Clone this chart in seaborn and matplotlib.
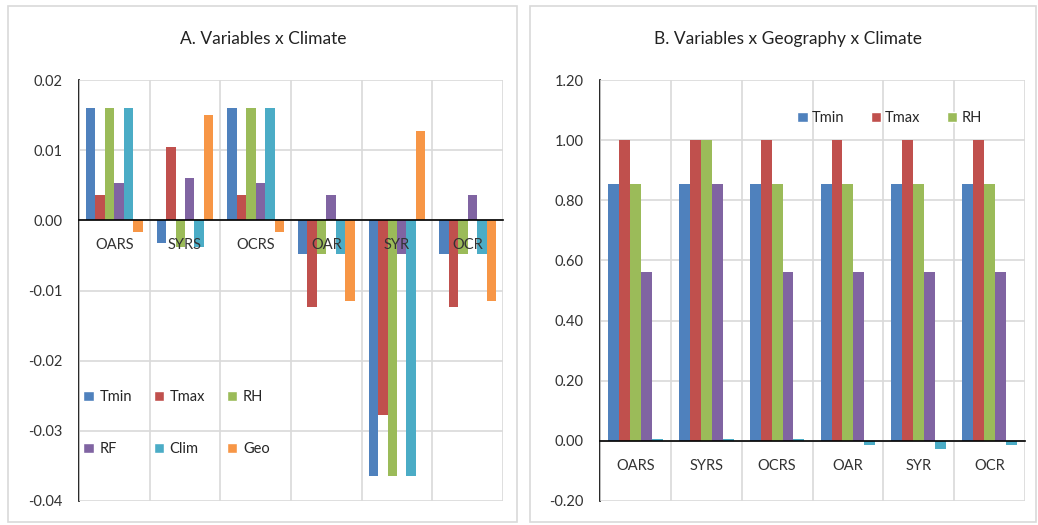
import numpy as np
import pandas as pd
import matplotlib
matplotlib.use("Agg")
import matplotlib.pyplot as plt
import seaborn as sns
from matplotlib.patches import Patch, Rectangle
from matplotlib.ticker import FixedLocator, FormatStrFormatter

# sites (categories), same for both panels
sites = ["OARS", "SYRS", "OCRS", "OAR", "SYR", "OCR"]

# panel A: Variables x Climate
a_tmin = [0.016, -0.0033, 0.016, -0.0048, -0.0365, -0.0048]
a_tmax = [0.0036, 0.0105, 0.0036, -0.0124, -0.0277, -0.0124]
a_rh = [0.016, -0.0038, 0.016, -0.0048, -0.0365, -0.0048]
a_rf = [0.0053, 0.006, 0.0053, 0.0036, -0.0048, 0.0036]
a_clim = [0.016, -0.0038, 0.016, -0.0048, -0.0365, -0.0048]
a_geo = [-0.0016, 0.015, -0.0016, -0.0115, 0.0127, -0.0115]

# panel B: Variables x Geography x Climate
b_tmin = [0.855, 0.855, 0.855, 0.855, 0.855, 0.855]
b_tmax = [1.0, 1.0, 1.0, 1.0, 1.0, 1.0]
b_rh = [0.855, 1.0, 0.855, 0.855, 0.855, 0.855]
b_rf = [0.56, 0.855, 0.56, 0.56, 0.56, 0.56]
b_clim = [0.006, 0.006, 0.006, -0.013, -0.026, -0.013]

vars_a = ["Tmin", "Tmax", "RH", "RF", "Clim", "Geo"]
vars_b = ["Tmin", "Tmax", "RH", "RF", "Clim"]

colores = ["#4F81BD", "#C0504D", "#9BBB59", "#8064A2", "#4BACC6", "#F79646"]


def armar_df(series, nombres):
    filas = []
    for nom, vals in zip(nombres, series):
        for s, v in zip(sites, vals):
            filas.append({"site": s, "var": nom, "value": v})
    return pd.DataFrame(filas)


dfA = armar_df([a_tmin, a_tmax, a_rh, a_rf, a_clim, a_geo], vars_a)
dfB = armar_df([b_tmin, b_tmax, b_rh, b_rf, b_clim], vars_b)

sns.set_style("white")
plt.rcParams["font.family"] = ["Lato", "DejaVu Sans"]

W, H = 1038, 525
fig = plt.figure(figsize=(W / 100, H / 100), dpi=100)

# bordes de cada panel (estilo excel)
for x0, x1 in [(8, 517), (530, 1036)]:
    fig.add_artist(Rectangle((x0 / W, 1 - 522 / H), (x1 - x0) / W, (522 - 6) / H,
                             transform=fig.transFigure, fill=False,
                             edgecolor="#d9d9d9", lw=1.2))

axA = fig.add_axes([79 / W, 1 - 501 / H, (503 - 79) / W, (501 - 80) / H])
axB = fig.add_axes([600 / W, 1 - 501 / H, (1025 - 600) / W, (501 - 80) / H])

sns.barplot(data=dfA, x="site", y="value", hue="var", palette=colores,
            width=0.8, saturation=1, errorbar=None, linewidth=0,
            legend=False, ax=axA)
sns.barplot(data=dfB, x="site", y="value", hue="var", palette=colores[:5],
            width=0.77, saturation=1, errorbar=None, linewidth=0,
            legend=False, ax=axB)


def estilo(ax, ymin, ymax, paso):
    ax.set_xlim(-0.5, len(sites) - 0.5)
    ax.set_ylim(ymin, ymax)
    ax.set_yticks(np.round(np.arange(ymin, ymax + paso / 2, paso), 4))
    ax.yaxis.set_major_formatter(FormatStrFormatter("%.2f"))
    ax.xaxis.set_major_locator(FixedLocator(np.arange(-0.5, len(sites), 1.0)))
    ax.xaxis.set_minor_locator(FixedLocator(np.arange(len(sites))))
    ax.set_xticklabels([], minor=False)
    ax.set_xticklabels(sites, minor=True)
    ax.tick_params(axis="x", which="major", direction="inout", length=12,
                   width=1.2, color="black")
    ax.tick_params(axis="x", which="minor", length=0, pad=13,
                   labelsize=10.5, labelcolor="#333333")
    ax.tick_params(axis="y", direction="inout", length=12, width=1.2,
                   color="black", pad=6, labelsize=10.5, labelcolor="#333333")
    ax.grid(True, which="major", color="#d9d9d9", lw=1.2)
    ax.set_axisbelow(True)
    # etiquetas de categoria por encima de las barras
    ax.xaxis.set_zorder(3)
    for lado in ["top", "right"]:
        ax.spines[lado].set_visible(False)
    ax.spines["bottom"].set_position(("data", 0))
    ax.spines["bottom"].set_color("black")
    ax.spines["bottom"].set_linewidth(1.2)
    ax.spines["bottom"].set_zorder(5)
    ax.spines["left"].set_color("black")
    ax.spines["left"].set_linewidth(1.2)
    ax.set_xlabel("")
    ax.set_ylabel("")


estilo(axA, -0.04, 0.02, 0.01)
estilo(axB, -0.2, 1.2, 0.2)

fig.text(263 / W, 1 - 39 / H, "A. Variables x Climate", ha="center",
         va="center", fontsize=12.5, color="#222222")
fig.text(788 / W, 1 - 39 / H, "B. Variables x Geography x Climate",
         ha="center", va="center", fontsize=12.5, color="#222222")

# leyendas (orden por filas como en excel)
hA = [Patch(facecolor=c, label=n) for c, n in zip(colores, vars_a)]
hA = [hA[0], hA[3], hA[1], hA[4], hA[2], hA[5]]
axA.legend(handles=hA, ncol=3, loc="upper left",
           bbox_to_anchor=(76 / W, 1 - 383 / H), bbox_transform=fig.transFigure,
           frameon=False, borderpad=0, handlelength=0.7, handleheight=0.7,
           handletextpad=0.4, columnspacing=1.5, labelspacing=2.6,
           fontsize=10.5)

hB = [Patch(facecolor=c, label=n) for c, n in zip(colores[:3], vars_b[:3])]
axB.legend(handles=hB, ncol=3, loc="upper left",
           bbox_to_anchor=(790 / W, 1 - 104 / H), bbox_transform=fig.transFigure,
           frameon=False, borderpad=0, handlelength=0.7, handleheight=0.7,
           handletextpad=0.3, columnspacing=1.8, fontsize=10.5)

fig.savefig("out.png", dpi=100)
